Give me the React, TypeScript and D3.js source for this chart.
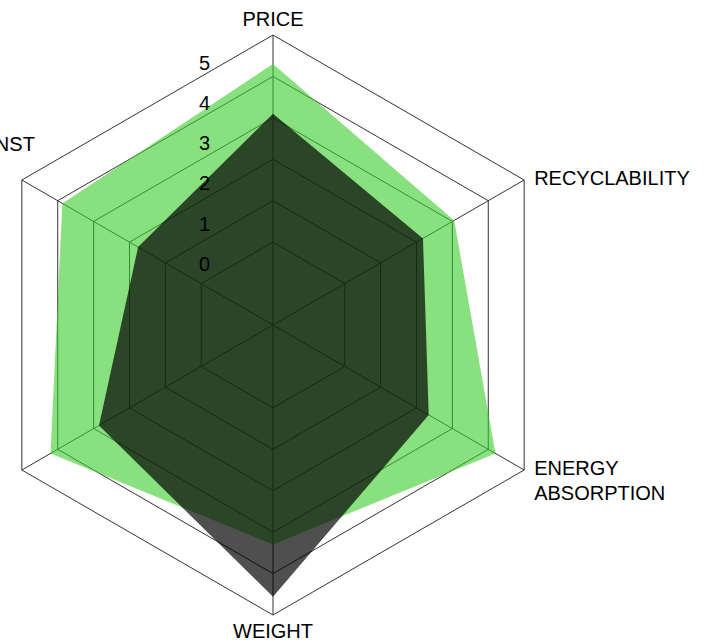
import React from "react";
import * as d3 from "d3";

const axes = ["PRICE", "RECYCLABILITY", "ENERGY ABSORPTION", "WEIGHT", "", "RESISTANCE AGAINST"];
const seriesGreen = [4.3, 3.05, 4.2, 3.3, 4.2, 3.87];
const seriesDark = [3.1, 2.18, 2.34, 4.56, 2.85, 1.76];
const tickValues = [0, 1, 2, 3, 4, 5];

const W = 715;
const H = 644;
const cx = 273;
const cy = 325;
const R = 290;

export default function App() {
  const r = d3.scaleLinear().domain([-2, 5]).range([0, R]);
  const tickY = d3.scaleLinear().domain([0, 5]).range([264, 62.5]);
  const n = axes.length;
  const ang = (i: number) => (i * 2 * Math.PI) / n;

  const radial = d3
    .lineRadial<number>()
    .angle((_d, i) => ang(i))
    .radius((d) => r(d))
    .curve(d3.curveLinearClosed);

  const ringPath = (v: number) => radial(axes.map(() => v)) || "";

  const labelFont = { fontFamily: "'Liberation Sans', Arial, Helvetica, sans-serif", fontSize: 20 };

  return (
    <svg width={W} height={H} style={{ position: "absolute", left: 0, top: 0 }}>
      <rect x={0} y={0} width={W} height={H} fill="#fff" />
      <g transform={`translate(${cx},${cy})`}>
        {tickValues.map((v) => (
          <path key={v} d={ringPath(v)} fill="none" stroke="#333" strokeWidth={1} />
        ))}
        {axes.map((_a, i) => (
          <line
            key={i}
            x1={0}
            y1={0}
            x2={r(5) * Math.sin(ang(i))}
            y2={-r(5) * Math.cos(ang(i))}
            stroke="#333"
            strokeWidth={1}
          />
        ))}
        <path d={radial(seriesGreen) || ""} fill="rgb(57,203,42)" fillOpacity={0.6} />
        <path d={radial(seriesDark) || ""} fill="#000" fillOpacity={0.69} />
      </g>
      {tickValues.map((v) => (
        <text
          key={v}
          x={204.5}
          y={tickY(v)}
          textAnchor="middle"
          dominantBaseline="central"
          fill="#000"
          {...labelFont}
        >
          {v}
        </text>
      ))}
      {axes.map((a, i) => {
        if (!a) return null;
        const s = Math.sin(ang(i));
        const c = Math.cos(ang(i));
        const vx = cx + r(5) * s;
        const vy = cy - r(5) * c;
        const lines = a === "ENERGY ABSORPTION" ? ["ENERGY", "ABSORPTION"] : [a];
        let x = vx;
        let y = vy;
        let anchor: "start" | "middle" | "end" = "middle";
        let baseline = "central";
        if (Math.abs(s) < 0.01) {
          if (c > 0) {
            y = vy - 9;
            baseline = "auto";
          } else {
            y = vy + 9;
            baseline = "hanging";
          }
        } else if (s > 0) {
          x = vx + 10;
          y = vy - 2;
          anchor = "start";
        } else {
          x = vx + 13;
          y = vy - 36;
          anchor = "end";
        }
        return (
          <text key={i} x={x} y={y} textAnchor={anchor} fill="#000" {...labelFont}>
            {lines.map((l, j) => (
              <tspan key={j} x={x} dy={j === 0 ? 0 : 25} dominantBaseline={baseline as any}>
                {l}
              </tspan>
            ))}
          </text>
        );
      })}
    </svg>
  );
}
